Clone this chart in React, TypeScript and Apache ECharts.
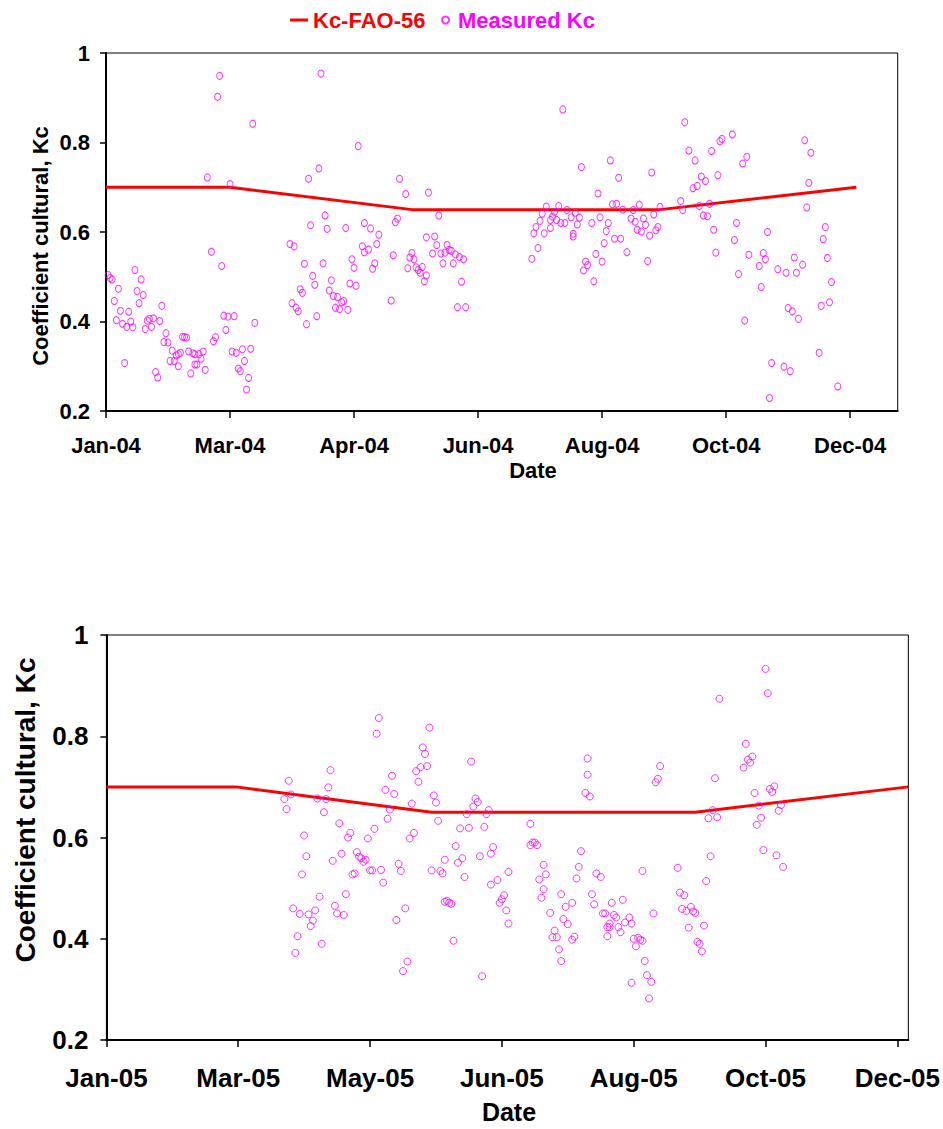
import React, { useEffect, useRef } from "react";
import * as echarts from "echarts";

// ---------- DATA ----------
// x values are days counted from 1 January of each year
const topTickLabels = ["Jan-04", "Mar-04", "Apr-04", "Jun-04", "Aug-04", "Oct-04", "Dec-04"];
const bottomTickLabels = ["Jan-05", "Mar-05", "May-05", "Jun-05", "Aug-05", "Oct-05", "Dec-05"];
const tickDays = [0, 60, 120, 180, 240, 300, 360];
const yTicks = [0.2, 0.4, 0.6, 0.8, 1];

const fao2004Days = [0, 60, 148, 268, 363];
const fao2004Values = [0.7, 0.7, 0.65, 0.65, 0.7];
const fao2005Days = [0, 59, 148, 268, 365];
const fao2005Values = [0.7, 0.7, 0.65, 0.65, 0.7];

const measured2004Days = [
  49, 60, 51, 56, 1, 2, 3, 14, 17, 6, 15, 18, 4, 16, 27, 7, 11, 5, 8, 12, 10, 13, 20, 21, 23, 26, 19, 22, 9, 29,
  28, 30, 32, 34, 35, 31, 33, 35, 37, 38, 39, 36, 40, 42, 43, 45, 47, 46, 43, 44, 41, 48, 24, 25, 52, 53, 58, 57,
  59, 62, 72, 61, 63, 66, 70, 67, 64, 65, 69, 68, 55, 54, 71,
  104, 122, 103, 98, 142, 145, 156, 106, 99, 107, 116, 125, 128, 132, 140, 141, 161, 89, 91, 96, 105, 100, 101,
  94, 95, 90, 92, 93, 97, 102, 109, 108, 110, 112, 114, 115, 111, 113, 117, 119, 120, 124, 125, 127, 131, 118,
  121, 130, 129, 139, 138, 148, 147, 149, 146, 150, 153, 151, 152, 155, 154, 155, 159, 160, 158, 162, 165, 166,
  164, 167, 169, 171, 173, 163, 168, 172, 170, 174,
  221, 280, 282, 230, 244, 248, 264, 238, 278, 279, 245, 247, 250, 258, 255, 268, 213, 219, 223, 227, 211, 217,
  216, 215, 218, 220, 222, 225, 229, 228, 210, 208, 215, 207, 212, 226, 226, 209, 206, 235, 239, 243, 242, 241,
  246, 249, 252, 237, 240, 232, 233, 231, 236, 254, 256, 260, 261, 257, 259, 263, 265, 266, 267, 262,
  285, 293, 297, 298, 303, 310, 308, 338, 341, 340, 339, 288, 290, 286, 284, 296, 287, 292, 289, 291, 294, 305,
  304, 295, 320, 311, 318, 319, 316, 306, 317, 325, 329, 333, 334, 337, 348, 347, 349, 351, 350, 346, 330, 332,
  335, 309, 345, 322, 328, 331, 354, 321,
];
const measured2004Values = [
  0.722, 0.707, 0.556, 0.524, 0.504, 0.497, 0.494, 0.515, 0.494, 0.473, 0.468, 0.459, 0.446, 0.441, 0.435, 0.424,
  0.422, 0.403, 0.395, 0.4, 0.388, 0.387, 0.402, 0.406, 0.407, 0.401, 0.383, 0.388, 0.307, 0.374, 0.354, 0.353,
  0.335, 0.324, 0.327, 0.312, 0.312, 0.3, 0.366, 0.365, 0.364, 0.33, 0.333, 0.329, 0.327, 0.327, 0.333, 0.317,
  0.304, 0.304, 0.284, 0.292, 0.287, 0.275, 0.356, 0.365, 0.381, 0.413, 0.411, 0.412, 0.397, 0.333, 0.33, 0.338,
  0.339, 0.312, 0.295, 0.289, 0.274, 0.248, 0.949, 0.902, 0.842,
  0.954, 0.792, 0.742, 0.719, 0.719, 0.685, 0.688, 0.637, 0.615, 0.607, 0.609, 0.62, 0.608, 0.594, 0.622, 0.63,
  0.637, 0.573, 0.568, 0.529, 0.53, 0.502, 0.482, 0.472, 0.464, 0.441, 0.431, 0.423, 0.394, 0.412, 0.492, 0.469,
  0.457, 0.455, 0.443, 0.446, 0.431, 0.428, 0.426, 0.539, 0.52, 0.568, 0.555, 0.561, 0.573, 0.485, 0.48, 0.53,
  0.518, 0.548, 0.447, 0.553, 0.543, 0.539, 0.519, 0.521, 0.522, 0.515, 0.509, 0.503, 0.49, 0.588, 0.59, 0.571,
  0.552, 0.552, 0.571, 0.56, 0.554, 0.558, 0.55, 0.544, 0.539, 0.53, 0.53, 0.489, 0.432, 0.432,
  0.874, 0.845, 0.782, 0.745, 0.76, 0.721, 0.733, 0.686, 0.669, 0.649, 0.662, 0.663, 0.65, 0.661, 0.649, 0.656,
  0.657, 0.658, 0.649, 0.643, 0.641, 0.645, 0.634, 0.627, 0.627, 0.62, 0.62, 0.633, 0.632, 0.617, 0.625, 0.611,
  0.609, 0.597, 0.597, 0.596, 0.59, 0.564, 0.54, 0.62, 0.633, 0.62, 0.602, 0.575, 0.585, 0.585, 0.555, 0.551,
  0.534, 0.534, 0.526, 0.514, 0.49, 0.63, 0.623, 0.63, 0.616, 0.605, 0.601, 0.592, 0.639, 0.604, 0.611, 0.535,
  0.76, 0.781, 0.803, 0.808, 0.818, 0.768, 0.753, 0.805, 0.777, 0.71, 0.655, 0.724, 0.714, 0.703, 0.698, 0.727,
  0.658, 0.663, 0.637, 0.635, 0.605, 0.62, 0.582, 0.554, 0.6, 0.549, 0.553, 0.539, 0.524, 0.506, 0.477, 0.517,
  0.509, 0.543, 0.509, 0.527, 0.611, 0.584, 0.542, 0.488, 0.443, 0.435, 0.43, 0.423, 0.406, 0.402, 0.33, 0.307,
  0.299, 0.289, 0.255, 0.229,
];

const measured2005Days = [
  124, 123, 147, 144, 145, 141, 143, 146, 142, 102, 83, 101, 130, 127, 131, 84, 81, 82, 96, 100, 99, 129, 128,
  139, 149, 150, 151, 106, 111, 110, 122, 119, 140, 138, 90, 91, 107, 103, 114, 115, 116, 117, 118, 120, 121, 125,
  112, 113, 126, 133, 134, 148, 152, 153, 154, 89, 97, 109, 85, 88, 92, 95, 94, 93, 104, 105, 108, 136, 132, 87,
  98, 86, 137, 135, 154,
  166, 168, 169, 167, 164, 173, 174, 161, 165, 172, 193, 219, 219, 218, 220, 159, 176, 175, 170, 162, 160, 163,
  183, 178, 175, 194, 195, 196, 193, 199, 200, 197, 199, 198, 216, 215, 214, 223, 225, 221, 222, 155, 156, 157,
  181, 180, 179, 182, 183, 207, 212, 209, 202, 208, 210, 204, 203, 205, 206, 207, 213, 212, 230, 226, 227, 231,
  229, 229, 228, 228, 158, 171,
  300, 301, 279, 291, 292, 294, 293, 290, 277, 252, 251, 250, 302, 303, 304, 295, 297, 298, 296, 307, 306, 276,
  274, 278, 299, 305, 308, 275, 244, 260, 273, 235, 232, 238, 236, 239, 234, 233, 249, 261, 263, 262, 264, 266,
  267, 268, 272, 265, 269, 270, 271, 240, 242, 243, 244, 241, 245, 246, 248, 239, 247,
];
const measured2005Values = [
  0.836, 0.805, 0.817, 0.778, 0.765, 0.731, 0.739, 0.741, 0.71, 0.733, 0.712, 0.699, 0.722, 0.694, 0.686, 0.685,
  0.676, 0.656, 0.677, 0.676, 0.65, 0.655, 0.637, 0.667, 0.683, 0.669, 0.633, 0.628, 0.609, 0.6, 0.617, 0.598,
  0.609, 0.598, 0.604, 0.563, 0.568, 0.554, 0.571, 0.562, 0.559, 0.552, 0.556, 0.535, 0.535, 0.536, 0.527, 0.529,
  0.511, 0.548, 0.534, 0.535, 0.534, 0.529, 0.556, 0.527, 0.483, 0.488, 0.46, 0.449, 0.448, 0.456, 0.436, 0.425,
  0.465, 0.45, 0.447, 0.46, 0.437, 0.405, 0.39, 0.372, 0.355, 0.336, 0.473,
  0.75, 0.677, 0.67, 0.661, 0.646, 0.646, 0.654, 0.618, 0.619, 0.621, 0.627, 0.756, 0.724, 0.688, 0.681, 0.583,
  0.581, 0.568, 0.563, 0.559, 0.55, 0.522, 0.532, 0.516, 0.507, 0.59, 0.59, 0.585, 0.585, 0.546, 0.527, 0.517,
  0.498, 0.481, 0.573, 0.542, 0.519, 0.529, 0.522, 0.488, 0.468, 0.475, 0.471, 0.469, 0.486, 0.478, 0.471, 0.456,
  0.43, 0.488, 0.471, 0.463, 0.451, 0.439, 0.429, 0.416, 0.403, 0.403, 0.379, 0.356, 0.404, 0.398, 0.471, 0.45,
  0.45, 0.447, 0.43, 0.423, 0.423, 0.405, 0.396, 0.326,
  0.933, 0.885, 0.874, 0.785, 0.754, 0.76, 0.748, 0.738, 0.717, 0.741, 0.716, 0.709, 0.696, 0.69, 0.701, 0.688,
  0.663, 0.639, 0.625, 0.664, 0.653, 0.654, 0.638, 0.64, 0.575, 0.565, 0.542, 0.563, 0.534, 0.54, 0.514, 0.477,
  0.442, 0.442, 0.432, 0.43, 0.413, 0.423, 0.45, 0.491, 0.486, 0.459, 0.455, 0.463, 0.454, 0.451, 0.426, 0.422,
  0.394, 0.39, 0.375, 0.4, 0.402, 0.398, 0.396, 0.385, 0.356, 0.328, 0.315, 0.313, 0.282,
];

// ---------- STYLE ----------
const FONT = "'Liberation Sans', Arial, sans-serif";
const RED = "#FF0000";
const MAGENTA = "#FF00FF";

const zip = (xs: number[], ys: number[]) => xs.map((x, i) => [x, ys[i]]);

function xAxisFor(gridIndex: number, max: number, labels: string[], fontSize: number, margin: number) {
  return {
    type: "value",
    gridIndex,
    min: 0,
    max,
    interval: 60,
    axisLine: { show: true, lineStyle: { color: "#000", width: 2 } },
    axisTick: {
      show: true,
      inside: false,
      length: 7,
      customValues: tickDays,
      lineStyle: { color: "#000", width: 1.5 },
    },
    axisLabel: {
      customValues: tickDays,
      margin,
      fontFamily: FONT,
      fontWeight: "bold",
      fontSize,
      color: "#000",
      formatter: (v: number) => labels[Math.round(v / 60)] ?? "",
    },
    splitLine: { show: false },
  };
}

function yAxisFor(gridIndex: number, fontSize: number, margin: number) {
  return {
    type: "value",
    gridIndex,
    min: 0.2,
    max: 1,
    interval: 0.2,
    axisLine: { show: true, lineStyle: { color: "#000", width: 2 } },
    axisTick: { show: true, inside: false, length: 6, lineStyle: { color: "#000", width: 1.5 } },
    axisLabel: {
      margin,
      fontFamily: FONT,
      fontWeight: "bold",
      fontSize,
      color: "#000",
      formatter: (v: number) => {
        const t = yTicks.find((k) => Math.abs(k - v) < 1e-6);
        return t === undefined ? "" : t === 1 ? "1" : t.toFixed(1);
      },
    },
    splitLine: { show: false },
  };
}

function titleText(x: number, y: number, text: string, fontSize: number, rotated: boolean) {
  return {
    type: "text",
    x,
    y,
    rotation: rotated ? Math.PI / 2 : 0,
    style: {
      text,
      fill: "#000",
      fontFamily: FONT,
      fontWeight: "bold",
      fontSize,
      textAlign: "center",
      textVerticalAlign: "middle",
    },
  };
}

export default function App() {
  const ref = useRef<HTMLDivElement>(null);

  useEffect(() => {
    if (!ref.current) return;
    const chart = echarts.init(ref.current, null, { renderer: "svg" });

    const option = {
      animation: false,
      backgroundColor: "#fff",
      grid: [
        { left: 106, top: 53, width: 791.7, height: 358, show: true, borderColor: "#000", borderWidth: 1, containLabel: false },
        { left: 106.4, top: 635, width: 805.6, height: 405, show: true, borderColor: "#000", borderWidth: 1, containLabel: false },
      ],
      xAxis: [xAxisFor(0, 383, topTickLabels, 22, 23), xAxisFor(1, 365, bottomTickLabels, 26, 25)],
      yAxis: [yAxisFor(0, 22, 16), yAxisFor(1, 26, 18)],
      legend: [
        {
          left: 290,
          top: 9,
          padding: 0,
          itemWidth: 18,
          itemHeight: 3,
          data: [{ name: "Kc-FAO-56", icon: "rect", textStyle: { color: RED } }],
          textStyle: { fontFamily: FONT, fontWeight: "bold", fontSize: 22, color: RED },
          selectedMode: false,
        },
        {
          left: 441,
          top: 9,
          padding: 0,
          itemWidth: 7,
          itemHeight: 7,
          data: [{ name: "Measured Kc", icon: "circle", textStyle: { color: MAGENTA } }],
          textStyle: { fontFamily: FONT, fontWeight: "bold", fontSize: 22, color: MAGENTA, padding: [0, 0, 0, 4] },
          selectedMode: false,
        },
      ],
      graphic: [
        titleText(40, 246, "Coefficient cultural, Kc", 22, true),
        titleText(533, 470, "Date", 22, false),
        titleText(25, 810, "Coefficient cultural, Kc", 28, true),
        titleText(509, 1112, "Date", 25, false),
      ],
      series: [
        {
          type: "line",
          name: "Kc-FAO-56",
          xAxisIndex: 0,
          yAxisIndex: 0,
          data: zip(fao2004Days, fao2004Values),
          symbol: "none",
          lineStyle: { color: RED, width: 3 },
          itemStyle: { color: RED },
          z: 2,
        },
        {
          type: "scatter",
          name: "Measured Kc",
          xAxisIndex: 0,
          yAxisIndex: 0,
          data: zip(measured2004Days, measured2004Values),
          symbol: "circle",
          symbolSize: [6, 7],
          itemStyle: { color: "rgba(255,255,255,0)", borderColor: MAGENTA, borderWidth: 1 },
          z: 3,
        },
        {
          type: "line",
          name: "Kc-FAO-56",
          xAxisIndex: 1,
          yAxisIndex: 1,
          data: zip(fao2005Days, fao2005Values),
          symbol: "none",
          lineStyle: { color: RED, width: 3 },
          itemStyle: { color: RED },
          z: 2,
        },
        {
          type: "scatter",
          name: "Measured Kc",
          xAxisIndex: 1,
          yAxisIndex: 1,
          data: zip(measured2005Days, measured2005Values),
          symbol: "circle",
          symbolSize: [7, 7],
          itemStyle: { color: "rgba(255,255,255,0)", borderColor: MAGENTA, borderWidth: 1 },
          z: 3,
        },
      ],
    };

    chart.setOption(option as any);
    return () => chart.dispose();
  }, []);

  return (
    <div
      ref={ref}
      style={{ position: "absolute", left: 0, top: 0, width: 943, height: 1129, background: "#fff" }}
    />
  );
}
